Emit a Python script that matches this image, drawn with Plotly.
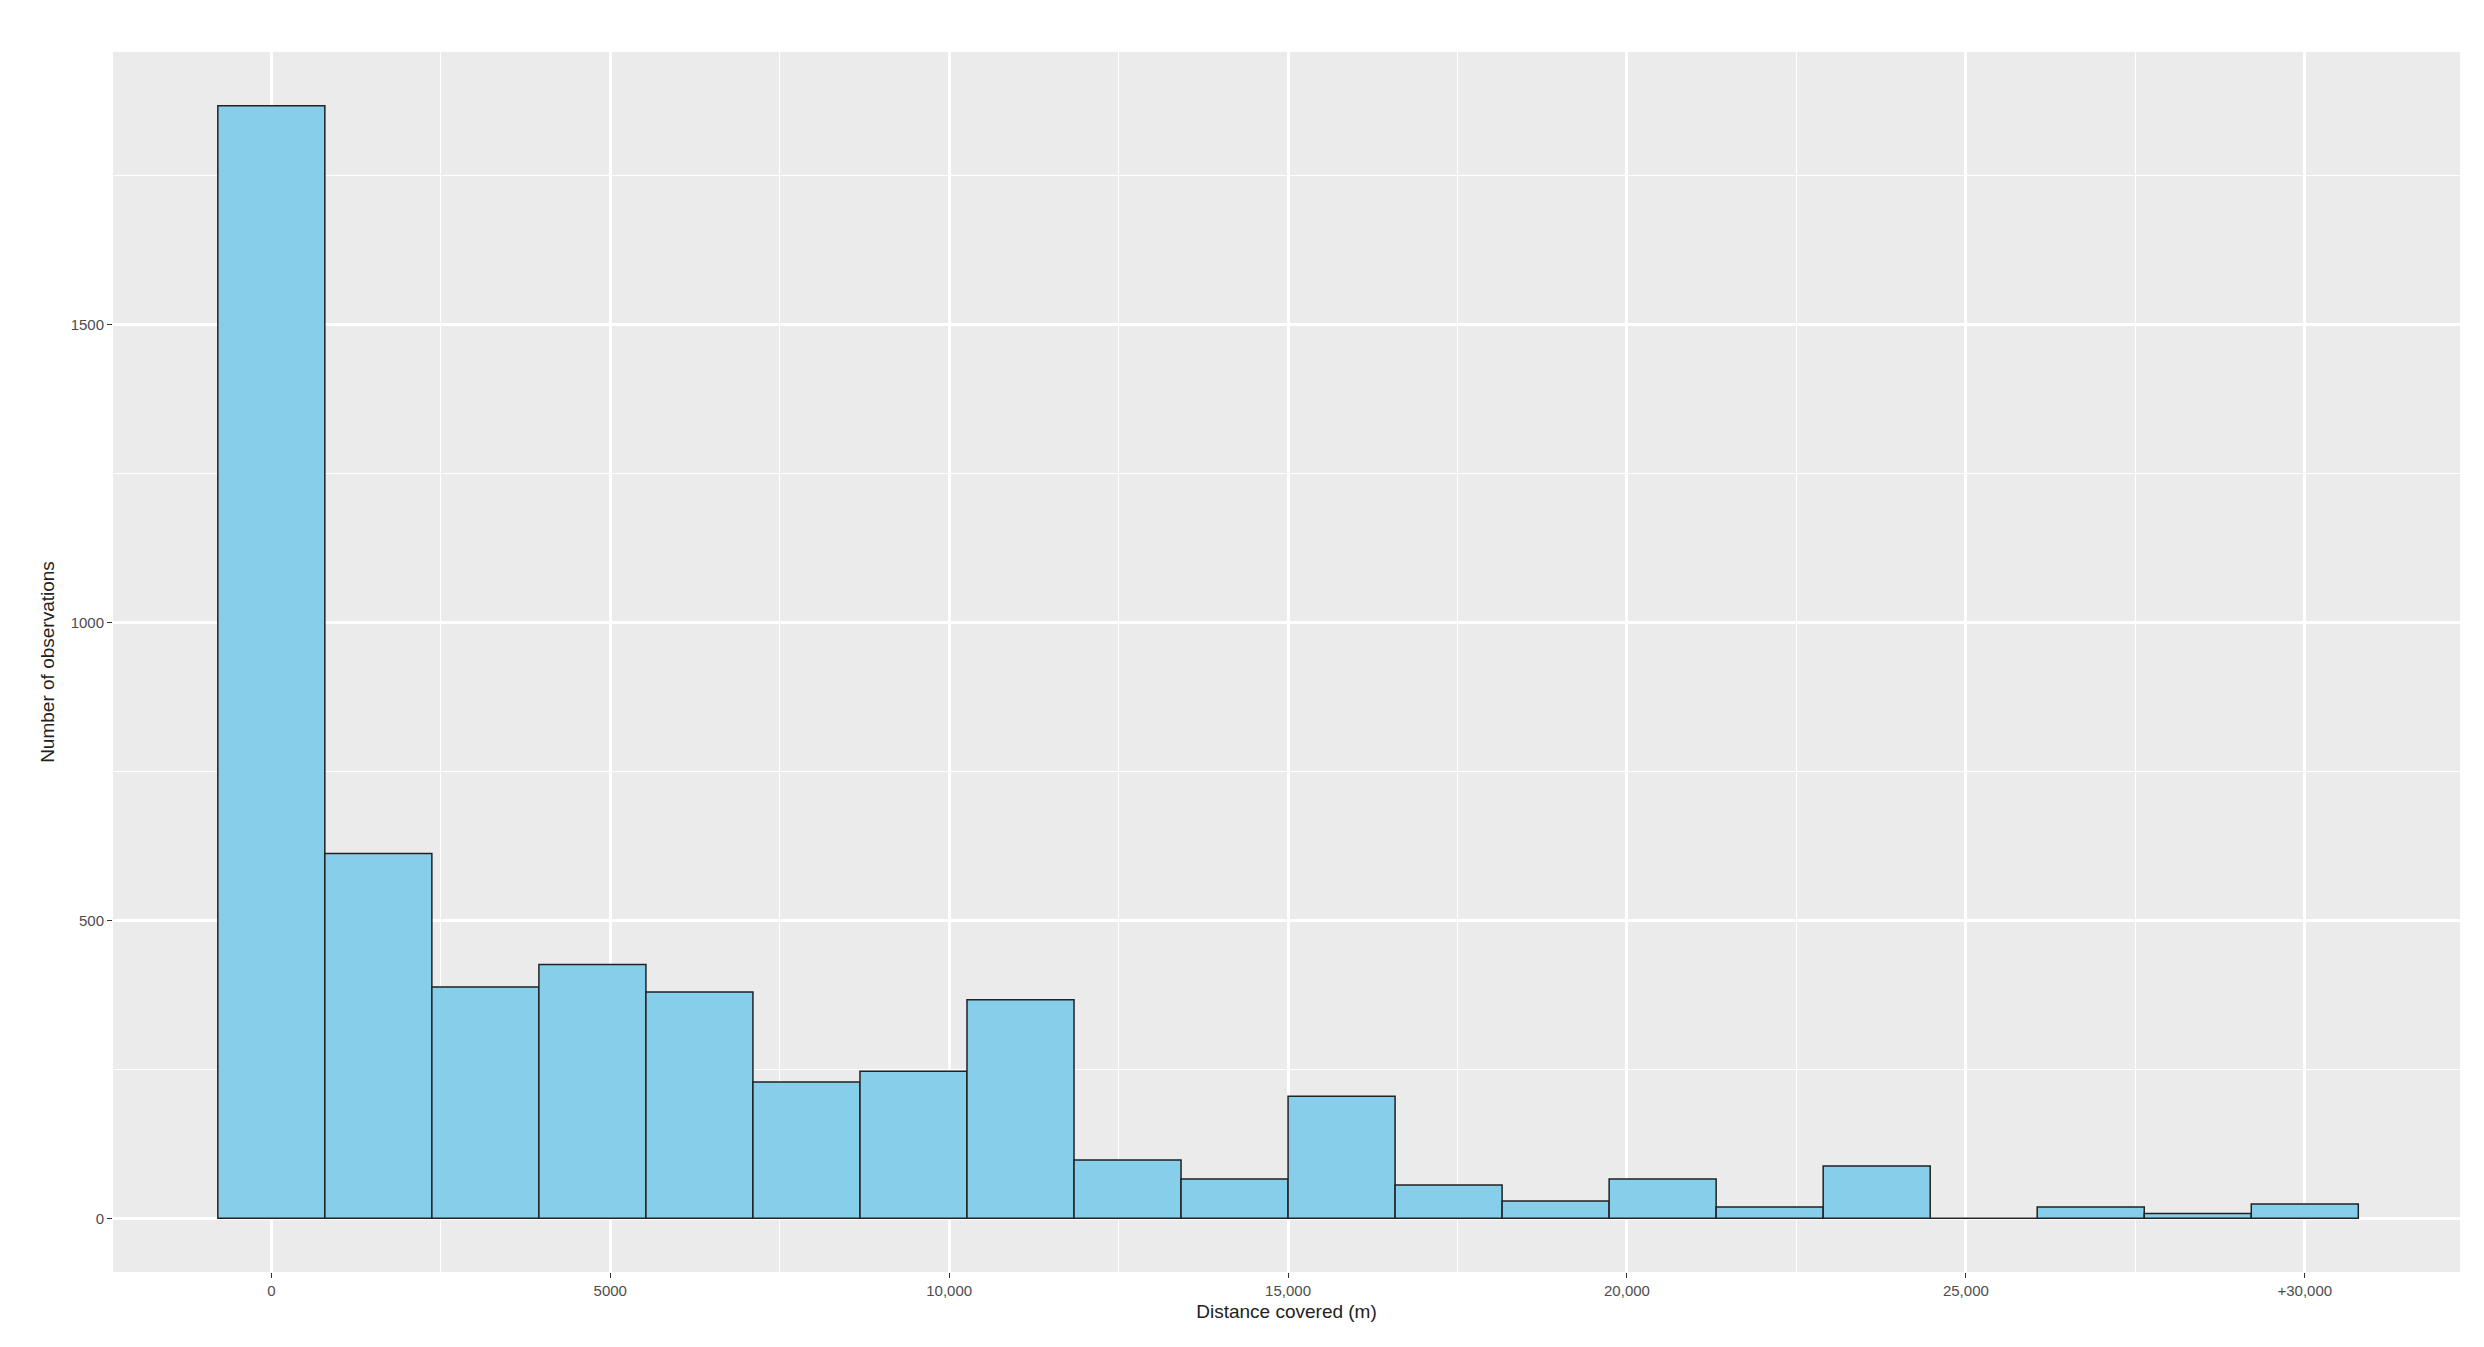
import plotly.graph_objects as go

bin_width = 30000 / 19
bin_index = list(range(20))
counts = [1867, 612, 388, 426, 380, 229, 247, 367, 98, 66,
          205, 56, 29, 66, 19, 88, 0, 19, 8, 24]
centers = [i * bin_width for i in bin_index]

x_ticks = [0, 5000, 10000, 15000, 20000, 25000, 30000]
x_labels = ["0", "5000", "10,000", "15,000", "20,000", "25,000", "+30,000"]
y_ticks = [0, 500, 1000, 1500]

fig = go.Figure(go.Bar(
    x=centers, y=counts, width=bin_width,
    marker=dict(color="#87CEEB", line=dict(color="#222222", width=1.5)),
))

fig.update_layout(
    width=2484, height=1347,
    paper_bgcolor="white", plot_bgcolor="#EBEBEB",
    margin=dict(l=105, r=32, t=44, b=83),
    showlegend=False,
    font=dict(family="Liberation Sans, Arial", color="#222222"),
)
fig.update_xaxes(
    range=[-2336, 32290], tickvals=x_ticks, ticktext=x_labels,
    tickfont=dict(size=15, color="#4D4D4D"), ticks="outside", ticklen=5,
    tickcolor="#333333", gridcolor="white", gridwidth=2.5, zeroline=False,
    minor=dict(tickvals=[2500, 7500, 12500, 17500, 22500, 27500],
               gridcolor="white", gridwidth=1.2),
    title=dict(text="Distance covered (m)", font=dict(size=19), standoff=6),
)
fig.update_yaxes(
    range=[-90, 1957], tickvals=y_ticks,
    tickfont=dict(size=15, color="#4D4D4D"), ticks="outside", ticklen=5,
    tickcolor="#333333", gridcolor="white", gridwidth=2.5, zeroline=False,
    minor=dict(tickvals=[250, 750, 1250, 1750], gridcolor="white", gridwidth=1.2),
    title=dict(text="Number of observations", font=dict(size=19), standoff=10),
)

fig.write_html("out.html")
